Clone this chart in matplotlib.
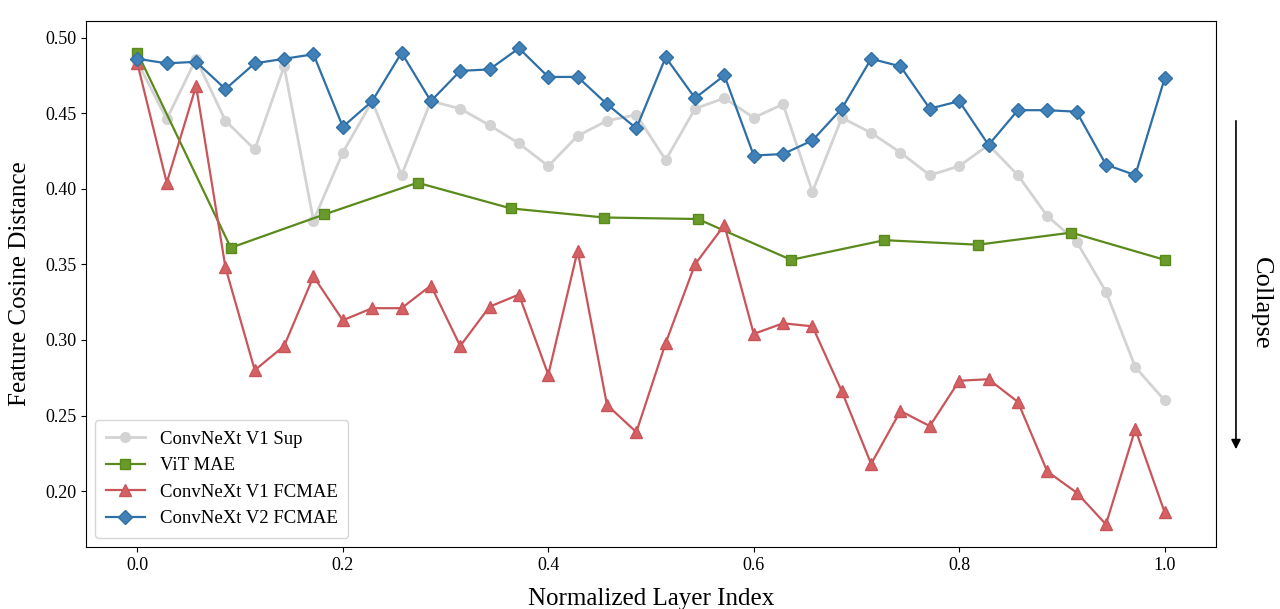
import numpy as np
import matplotlib.pyplot as plt

plt.rcParams["font.family"] = ["Liberation Serif", "DejaVu Serif"]

# 36 层的 ConvNeXt 模型, 12 层的 ViT
v1_sup = [0.484, 0.446, 0.486, 0.445, 0.426, 0.481, 0.379, 0.424, 0.458, 0.409,
          0.458, 0.453, 0.442, 0.430, 0.415, 0.435, 0.445, 0.449, 0.419, 0.453,
          0.460, 0.447, 0.456, 0.398, 0.447, 0.437, 0.424, 0.409, 0.415, 0.429,
          0.409, 0.382, 0.365, 0.332, 0.282, 0.260]
vit_mae = [0.490, 0.361, 0.383, 0.404, 0.387, 0.381, 0.380, 0.353, 0.366, 0.363,
           0.371, 0.353]
v1_fcmae = [0.483, 0.404, 0.468, 0.348, 0.280, 0.296, 0.342, 0.313, 0.321, 0.321,
            0.336, 0.296, 0.322, 0.330, 0.277, 0.359, 0.257, 0.239, 0.298, 0.350,
            0.376, 0.304, 0.311, 0.309, 0.266, 0.218, 0.253, 0.243, 0.273, 0.274,
            0.259, 0.213, 0.199, 0.178, 0.241, 0.186]
v2_fcmae = [0.486, 0.483, 0.484, 0.466, 0.483, 0.486, 0.489, 0.441, 0.458, 0.490,
            0.458, 0.478, 0.479, 0.493, 0.474, 0.474, 0.456, 0.440, 0.487, 0.460,
            0.475, 0.422, 0.423, 0.432, 0.453, 0.486, 0.481, 0.453, 0.458, 0.429,
            0.452, 0.452, 0.451, 0.416, 0.409, 0.473]

x_conv = np.linspace(0, 1, len(v1_sup))
x_vit = np.linspace(0, 1, len(vit_mae))

fig = plt.figure(figsize=(12.8, 6.09), dpi=100)
ax = fig.add_axes([0.0672, 0.1018, 0.8828, 0.8637])

ax.plot(x_conv, v1_sup, color="#d3d3d3", marker="o", markersize=7, linewidth=2,
        label="ConvNeXt V1 Sup")
ax.plot(x_vit, vit_mae, color="#5a8a1c", marker="s", markersize=7, linewidth=1.6,
        markerfacecolor="#6a9a2a", label="ViT MAE")
ax.plot(x_conv, v1_fcmae, color="#c9555a", marker="^", markersize=8, linewidth=1.6,
        markerfacecolor="#d46264", label="ConvNeXt V1 FCMAE")
ax.plot(x_conv, v2_fcmae, color="#2e6fa6", marker="D", markersize=7, linewidth=1.6,
        markerfacecolor="#4281b8", label="ConvNeXt V2 FCMAE")

ax.set_ylim(0.163, 0.511)
ax.set_yticks([0.20, 0.25, 0.30, 0.35, 0.40, 0.45, 0.50])
ax.set_yticklabels(["%.2f" % t for t in ax.get_yticks()])
ax.set_xticks([0.0, 0.2, 0.4, 0.6, 0.8, 1.0])
ax.tick_params(labelsize=13)
ax.set_xlabel("Normalized Layer Index", fontsize=18, labelpad=10)
ax.set_ylabel("Feature Cosine Distance", fontsize=18, labelpad=10)
ax.legend(loc="lower left", fontsize=13.5, handlelength=2.1, borderpad=0.55)

# 右侧的 Collapse 箭头
ax.annotate("", xy=(0.9656, 0.2578), xytext=(0.9656, 0.8062), xycoords="figure fraction",
            textcoords="figure fraction",
            arrowprops=dict(arrowstyle="-|>", color="black", lw=1.2, mutation_scale=14))
fig.text(0.985, 0.5025, "Collapse", rotation=-90, fontsize=19, ha="center", va="center")

plt.savefig("out.png", dpi=100)
